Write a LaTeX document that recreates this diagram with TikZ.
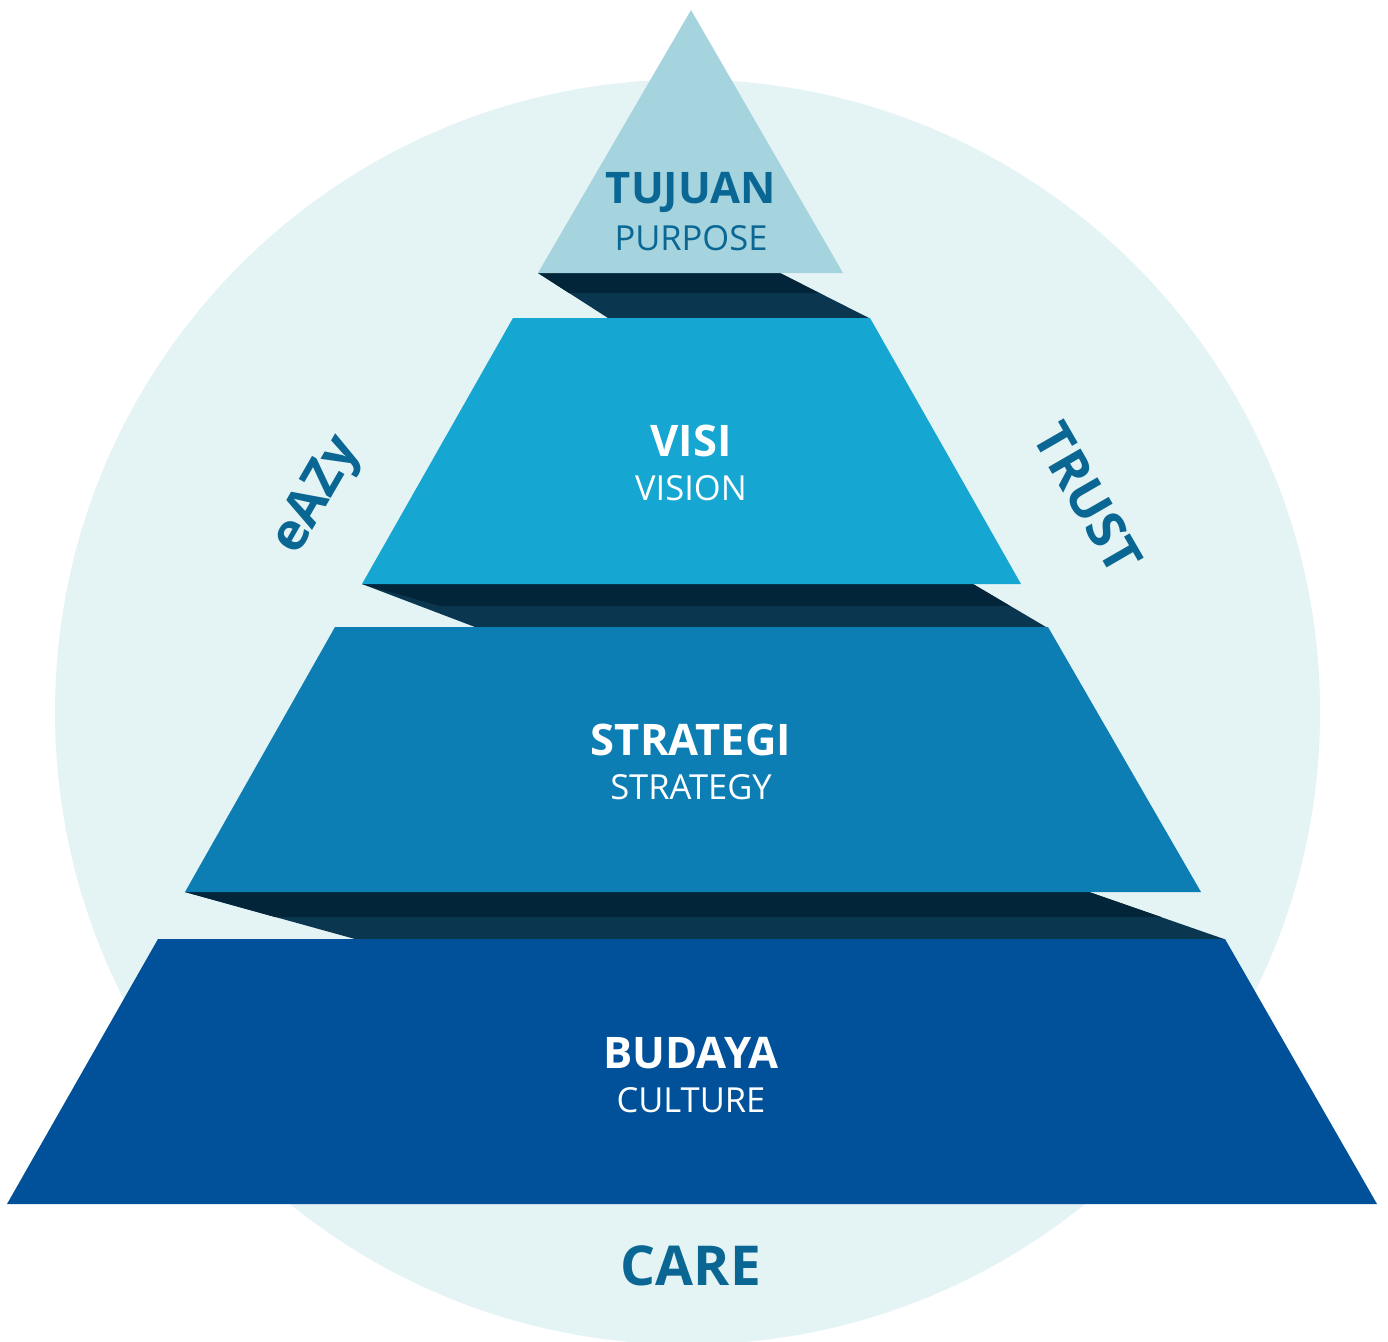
\documentclass[tikz,border=0pt]{standalone}
\usepackage{fontspec}
\setmainfont{Open Sans}
\definecolor{ringbg}{HTML}{E4F3F4}
\definecolor{tiptop}{HTML}{A5D3DE}
\definecolor{tiervis}{HTML}{16A6D2}
\definecolor{tierstr}{HTML}{0D7EB4}
\definecolor{tierbud}{HTML}{005199}
\definecolor{shadehi}{HTML}{02253A}
\definecolor{shadelo}{HTML}{0A374F}
\definecolor{inkblue}{HTML}{0A6794}
\tikzset{
  headtxt/.style={font=\bfseries\fontsize{43.5}{50}\selectfont},
  subtxt/.style={font=\fontsize{34.5}{40}\selectfont},
  sidetxt/.style={font=\bfseries\fontsize{52}{58}\selectfont, text=inkblue}
}
\begin{document}
\begin{tikzpicture}[x=1pt,y=-1pt, line join=round]
\useasboundingbox (0,0) rectangle (1388,1341);
\clip (0,0) rectangle (1388,1341);
% background ring
\fill[ringbg] (687.5,712) circle (632.5);
% shadows between the tiers
\fill[shadelo] (538,273) -- (780,273) -- (869,318) -- (608,318) -- cycle;
\fill[shadehi] (538,273) -- (780,273) -- (819,293) -- (569,293) -- cycle;
\fill[shadelo] (362,584) -- (973,584) -- (1046,627) -- (475,627) -- cycle;
\fill[shadehi] (362,584) -- (973,584) -- (1010,606) -- (440,606) -- cycle;
\fill[shadelo] (185,892) -- (1089,892) -- (1224,939) -- (355,939) -- cycle;
\fill[shadehi] (185,892) -- (1089,892) -- (1161,917) -- (275,917) -- cycle;
% tiers
\fill[tiptop] (691,10) -- (843,273) -- (538,273) -- cycle;
\fill[tiervis] (513,318) -- (870,318) -- (1021,584) -- (362,584) -- cycle;
\fill[tierstr] (335,627) -- (1048,627) -- (1201,892) -- (185,892) -- cycle;
\fill[tierbud] (158,939) -- (1225,939) -- (1377,1204) -- (7,1204) -- cycle;
% labels
\node[headtxt, text=inkblue] (tujuan) at (691,192) {TUJUAN};
\node[subtxt, text=inkblue] (purpose) at (691,238) {PURPOSE};
\node[headtxt, text=white] (visi) at (691,441) {VISI};
\node[subtxt, text=white] (vision) at (691,488) {VISION};
\node[headtxt, text=white] (strategi) at (691,740) {STRATEGI};
\node[subtxt, text=white] (strategy) at (691,787) {STRATEGY};
\node[headtxt, text=white] (budaya) at (691,1053) {BUDAYA};
\node[subtxt, text=white] (culture) at (691,1100) {CULTURE};
\node[sidetxt, rotate=60] (eazy) at (318,496) {eAZy};
\node[sidetxt, rotate=-60] (trust) at (1088,498) {TRUST};
\node[sidetxt, font=\bfseries\fontsize{55}{60}\selectfont] (care) at (691,1266) {CARE};
\end{tikzpicture}
\end{document}
